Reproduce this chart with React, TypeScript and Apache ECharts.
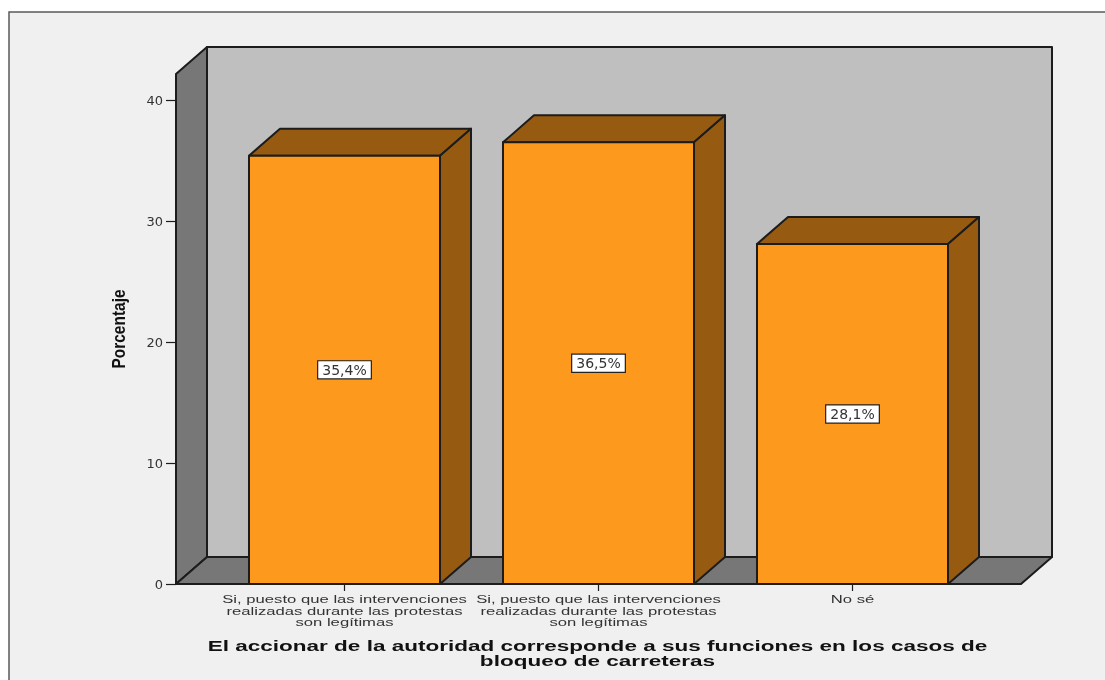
import React, { useEffect, useRef } from "react";
import * as echarts from "echarts";

const categories = [
  "Si, puesto que las intervenciones\nrealizadas durante las protestas\nson legítimas",
  "Si, puesto que las intervenciones\nrealizadas durante las protestas\nson legítimas",
  "No sé",
];
const values = [35.4, 36.5, 28.1];
const valueLabels = ["35,4%", "36,5%", "28,1%"];
const yTicks = [0, 10, 20, 30, 40];
const yMax = 42.15;
const xTitle = "El accionar de la autoridad corresponde a sus funciones en los casos de\nbloqueo de carreteras";
const yTitle = "Porcentaje";

const DX = 31;
const DY = 27;
const SIDE_PAD = 41.5;
const BAR_RATIO = 0.752;
const INK = "#1c1c1c";
const LINE = { stroke: INK, lineWidth: 2, lineJoin: "round" as const };
const SANS = "Liberation Sans";

function poly(points: number[][], fill: string) {
  return { type: "polygon", shape: { points }, style: { fill, ...LINE } };
}

function renderWalls(params: any) {
  const c = params.coordSys;
  const l = c.x - SIDE_PAD;
  const r = c.x + c.width + SIDE_PAD;
  const t = c.y;
  const b = c.y + c.height;
  return {
    type: "group",
    children: [
      poly([[l + DX, t - DY], [r + DX, t - DY], [r + DX, b - DY], [l + DX, b - DY]], "#bfbfbf"),
      poly([[l, t], [l + DX, t - DY], [l + DX, b - DY], [l, b]], "#777777"),
      poly([[l, b], [l + DX, b - DY], [r + DX, b - DY], [r, b]], "#777777"),
      {
        type: "text",
        x: c.x + c.width / 2 - 1,
        y: b + 54,
        scaleX: 1.453,
        style: {
          text: xTitle,
          fontFamily: SANS,
          fontWeight: "bold",
          fontSize: 15.5,
          lineHeight: 15,
          fill: "#111111",
          align: "center",
          verticalAlign: "top",
        },
      },
      {
        type: "text",
        x: l - 57,
        y: (t + b) / 2,
        rotation: Math.PI / 2,
        scaleX: 0.86,
        style: {
          text: yTitle,
          fontFamily: SANS,
          fontWeight: "bold",
          fontSize: 18,
          fill: "#111111",
          align: "center",
          verticalAlign: "middle",
        },
      },
    ],
  };
}

function renderBar(params: any, api: any) {
  const i = api.value(0);
  const v = api.value(1);
  const [cx, top] = api.coord([i, v]);
  const [, base] = api.coord([i, 0]);
  const w = api.size([1, 0])[0] * BAR_RATIO;
  const l = cx - w / 2;
  const r = cx + w / 2;
  return {
    type: "group",
    children: [
      poly([[l, top], [l + DX, top - DY], [r + DX, top - DY], [r, top]], "#965b10"),
      poly([[r, top], [r + DX, top - DY], [r + DX, base - DY], [r, base]], "#965b10"),
      poly([[l, top], [r, top], [r, base], [l, base]], "#fd9a1e"),
      {
        type: "text",
        x: cx,
        y: (top + base) / 2,
        style: {
          text: valueLabels[params.dataIndex],
          fontFamily: "DejaVu Sans",
          fontSize: 14,
          fill: "#333333",
          align: "center",
          verticalAlign: "middle",
          backgroundColor: "#ffffff",
          borderColor: "#222222",
          borderWidth: 1.2,
          padding: [2, 4, 1, 4],
        },
      },
      {
        type: "text",
        x: cx,
        y: base + 9,
        scaleX: 1.45,
        style: {
          text: categories[params.dataIndex],
          fontFamily: SANS,
          fontSize: 11.5,
          lineHeight: 11.7,
          fill: "#333333",
          align: "center",
          verticalAlign: "top",
        },
      },
    ],
  };
}

export default function App() {
  const ref = useRef<HTMLDivElement>(null);
  useEffect(() => {
    const chart = echarts.init(ref.current!, null, { renderer: "svg" });
    chart.setOption({
      animation: false,
      graphic: [
        {
          type: "rect",
          z: -10,
          silent: true,
          shape: { x: 9, y: 12, width: 1300, height: 900 },
          style: { fill: "#f0f0f0", stroke: "#5a5a5a", lineWidth: 1.5 },
        },
      ],
      grid: { left: 217.5, top: 74, width: 762, height: 510 },
      xAxis: {
        type: "category",
        data: categories,
        axisLine: { show: false },
        axisTick: { show: true, alignWithLabel: true, length: 7, lineStyle: { color: INK, width: 1.2 } },
        axisLabel: { show: false },
        splitLine: { show: false },
      },
      yAxis: {
        type: "value",
        min: 0,
        max: yMax,
        interval: 10,
        offset: SIDE_PAD,
        axisLine: { show: false },
        axisTick: { show: true, length: 10, customValues: yTicks, lineStyle: { color: INK, width: 1.2 } },
        axisLabel: {
          customValues: yTicks,
          margin: 13,
          fontFamily: "DejaVu Sans",
          fontSize: 13,
          color: "#333333",
        },
        splitLine: { show: false },
      },
      series: [
        {
          type: "custom",
          z: 1,
          silent: true,
          renderItem: renderWalls,
          data: [[0, 0]],
          encode: { x: 0, y: 1 },
        },
        {
          type: "custom",
          z: 2,
          silent: true,
          renderItem: renderBar,
          data: values.map((v, i) => [i, v]),
          encode: { x: 0, y: 1 },
        },
      ],
    });
    return () => chart.dispose();
  }, []);
  return <div ref={ref} style={{ position: "fixed", left: 0, top: 0, width: 1105, height: 680 }} />;
}
